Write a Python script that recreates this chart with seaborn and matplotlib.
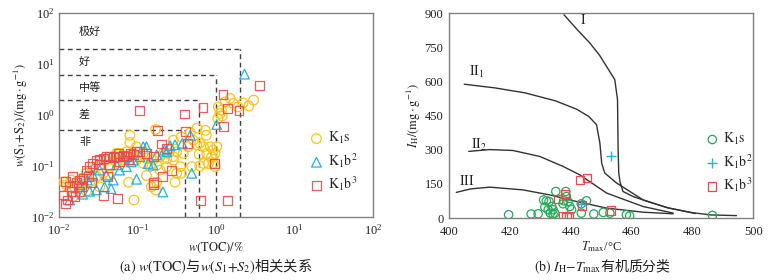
import numpy as np
import pandas as pd
import matplotlib
matplotlib.use("Agg")
import matplotlib.pyplot as plt
import seaborn as sns

sns.set_theme(style="white")
plt.rcParams['font.family'] = ['Liberation Serif', 'Noto Sans CJK SC', 'DejaVu Sans']
plt.rcParams['mathtext.fontset'] = 'stix'

# ---------------- Panel (a) data: TOC (%) vs S1+S2 (mg/g) ----------------
k1s_toc = [0.09, 0.08, 0.08, 0.17, 0.13, 0.15, 0.17, 0.175, 0.235, 0.245, 0.285, 0.30, 0.315, 0.35,
           0.36, 0.38, 0.44, 0.47, 0.49, 0.51, 0.57, 0.62, 0.69, 0.73, 0.75, 0.76, 0.84, 0.88, 0.80,
           0.92, 0.97, 1.02, 0.69, 0.61, 0.92, 0.97, 0.62, 1.05, 1.12, 1.17, 1.07, 1.51, 1.3, 1.66,
           2.2, 2.6, 3.0, 1.9, 1.2, 0.36, 0.285, 0.57,
           0.0107, 0.0115, 0.0125, 0.0143, 0.016, 0.0175, 0.0195, 0.020, 0.0223, 0.0246, 0.027, 0.030,
           0.033, 0.0365, 0.040, 0.044, 0.049, 0.054, 0.059, 0.066, 0.072, 0.080, 0.088, 0.097, 0.107,
           0.118, 0.13, 0.144, 0.158, 0.175, 0.193, 0.213, 0.235, 0.259, 0.285, 0.315, 0.193, 0.077,
           0.044, 0.033, 0.0223, 0.0151, 0.054, 0.097, 0.118]
k1s_s12 = [0.0215, 0.40, 0.29, 0.52, 0.065, 0.039, 0.034, 0.048, 0.097, 0.176, 0.152, 0.048, 0.072, 0.097,
           0.072, 0.176, 0.238, 0.45, 0.097, 0.32, 0.26, 0.28, 0.238, 0.50, 0.40, 0.176, 0.238, 0.152, 0.112,
           0.112, 0.176, 0.24, 0.112, 0.17, 0.205, 0.097, 0.10, 0.85, 1.07, 1.24, 1.44, 2.1, 1.8, 1.68,
           1.72, 1.5, 1.95, 1.44, 0.95, 0.37, 0.32, 0.55,
           0.039, 0.049, 0.043, 0.053, 0.037, 0.046, 0.057, 0.043, 0.072, 0.048, 0.083, 0.062,
           0.105, 0.072, 0.131, 0.090, 0.152, 0.112, 0.176, 0.131, 0.19, 0.152, 0.176, 0.131, 0.152,
           0.112, 0.14, 0.097, 0.131, 0.104, 0.152, 0.176, 0.14, 0.205, 0.131, 0.19, 0.083, 0.048,
           0.066, 0.039, 0.032, 0.025, 0.176, 0.238, 0.176]

k1b2_toc = [2.3, 1.02, 0.47, 0.49, 0.21, 0.118, 0.13, 0.259, 0.30, 0.37, 0.22, 0.097, 0.046, 0.038,
            0.030, 0.0246, 0.020, 0.0137, 0.040, 0.049, 0.059, 0.072, 0.083, 0.107, 0.137, 0.158,
            0.033, 0.027, 0.023, 0.0184, 0.054, 0.066, 0.088, 0.175, 0.235]
k1b2_s12 = [6.3, 0.65, 0.40, 0.072, 0.031, 0.238, 0.238, 0.25, 0.26, 0.277, 0.205, 0.055, 0.036, 0.039,
            0.034, 0.032, 0.028, 0.0215, 0.066, 0.053, 0.083, 0.097, 0.12, 0.152, 0.112, 0.104,
            0.083, 0.066, 0.053, 0.043, 0.105, 0.152, 0.131, 0.165, 0.19]

k1b3_toc = [0.107, 0.40, 0.41, 0.43, 0.18, 0.20, 0.21, 0.27, 0.68, 1.22, 1.41, 1.25, 1.95, 3.6, 0.95,
            0.63, 1.41, 0.16, 0.16, 0.055, 0.037, 0.012, 0.0113, 0.015, 0.012,
            0.027, 0.030, 0.033, 0.0365, 0.040, 0.044, 0.049, 0.054, 0.059, 0.066, 0.072, 0.080, 0.088,
            0.097, 0.077, 0.033, 0.0246, 0.0223, 0.044, 0.059, 0.0166, 0.0184, 0.0202, 0.0137, 0.0145,
            0.0195, 0.0235, 0.016, 0.0184, 0.0128, 0.041, 0.026, 0.107, 0.13, 0.158, 0.235, 0.057]
k1b3_s12 = [1.24, 1.04, 0.47, 0.28, 0.50, 0.27, 0.062, 0.082, 1.38, 2.5, 1.34, 0.59, 1.24, 3.8, 0.11,
            0.021, 0.021, 0.047, 0.044, 0.023, 0.026, 0.018, 0.027, 0.062, 0.049,
            0.112, 0.131, 0.135, 0.14, 0.152, 0.152, 0.148, 0.155, 0.152, 0.16, 0.155, 0.176, 0.165,
            0.19, 0.131, 0.105, 0.097, 0.083, 0.105, 0.12, 0.048, 0.053, 0.057, 0.039, 0.032,
            0.039, 0.062, 0.025, 0.032, 0.0215, 0.062, 0.048, 0.19, 0.176, 0.152, 0.22, 0.176]

# grade boundaries (TOC limit, S1+S2 limit) and grade labels
grade_toc = [0.4, 0.6, 1.0, 2.0]
grade_s12 = [0.5, 2.0, 6.0, 20.0]
grade_names = ['极好', '好', '中等', '差', '非']
grade_label_y = [42, 11, 3.5, 1.0, 0.3]

# ---------------- Panel (b) data: Tmax vs HI ----------------
curve_I_t = [437.8, 442, 446.3, 449.5, 451.8, 454.5, 455.4, 455.6, 455.8, 456.2, 457.2, 460.5, 466, 472, 480, 486, 494.5]
curve_I_h = [893, 830, 769, 715, 666, 608, 520, 300, 200, 160, 117, 95, 70, 45, 24, 14, 11]
curve_II1_t = [405, 415, 425, 435, 442, 446, 448.5, 449.6, 450.2, 451.2, 455, 463.8, 472, 481]
curve_II1_h = [588, 572, 550, 515, 478, 446, 410, 330, 241, 198, 155, 80, 45, 20]
curve_II2_t = [406.5, 413.4, 421, 429.8, 437.5, 443, 451.8, 463.8, 473.7]
curve_II2_h = [293, 301, 297, 271, 227, 190, 110, 51, 22]
curve_III_t = [402.4, 407, 413.4, 424.3, 433.1, 441.9, 451.8, 463.8, 473.7]
curve_III_h = [113, 128, 136, 124, 102, 73, 44, 26, 19]
curve_names = ['I', 'II_1', 'II_2', 'III']
curve_label_t = [444, 409, 410, 406]
curve_label_h = [871, 644, 322, 161]

b_k1s_t = [419.6, 427, 429.3, 431.1, 432, 432.9, 431.5, 432.6, 433.3, 434.2, 435.1, 434.2, 434.8, 437.5,
           438.4, 438.6, 437.7, 439.1, 439.7, 440.3, 443.5, 443.5, 445.2, 447.6, 450.7, 452.9, 458.3,
           459.4, 486.6, 433.8]
b_k1s_h = [15, 18, 19, 80, 76, 73, 48, 37, 22, 18, 117, 37, 22, 63, 117, 95, 76, 73, 51, 37, 22, 63, 76,
           18, 25, 22, 15, 10, 12, 51]
b_k1b2_t = [453.4, 443.5]
b_k1b2_h = [274, 63]
b_k1b3_t = [443, 445.4, 435.9, 438.2, 443.8, 453.2, 437.5, 438.6, 439.4]
b_k1b3_h = [168, 176, 85, 105, 56, 34, 7, 4, 10]

# ---------------- styling ----------------
c_yel = '#FFC312'
c_cyan = '#20B2E8'
c_red = '#F04848'
c_green = '#22AA5A'
frame_c = '#808080'

fig = plt.figure(figsize=(7.76, 2.8), dpi=100)
axA = fig.add_axes([0.076, 0.225, 0.405, 0.729])
axB = fig.add_axes([0.5786, 0.221, 0.392, 0.732])

# ---- Panel (a)
sns.scatterplot(x=k1s_toc, y=k1s_s12, marker='o', s=48, fc='none', ec=c_yel, linewidth=0.9,
                ax=axA, label=r'$\mathrm{K_1s}$', zorder=3)
sns.scatterplot(x=k1b2_toc, y=k1b2_s12, marker='^', s=48, fc='none', ec=c_cyan, linewidth=0.9,
                ax=axA, label=r'$\mathrm{K_1b^2}$', zorder=3)
sns.scatterplot(x=k1b3_toc, y=k1b3_s12, marker='s', s=40, fc='none', ec=c_red, linewidth=0.9,
                ax=axA, label=r'$\mathrm{K_1b^3}$', zorder=3, alpha=0.9)
axA.set_xscale('log')
axA.set_yscale('log')
axA.set_xlim(1e-2, 1e2)
axA.set_ylim(1e-2, 1e2)
for gt, gs in zip(grade_toc, grade_s12):
    axA.plot([1e-2, gt], [gs, gs], ls=(0, (3.5, 2.5)), color='#404040', lw=1.0, zorder=2)
    axA.plot([gt, gt], [1e-2, gs], ls=(0, (3.5, 2.5)), color='#404040', lw=1.0, zorder=2)
for name, gy in zip(grade_names, grade_label_y):
    axA.text(0.018, gy, name, family=['Noto Sans CJK SC'], fontsize=8, va='center', ha='left', color='#222222')
axA.set_xticks([1e-2, 1e-1, 1e0, 1e1, 1e2])
axA.set_yticks([1e-2, 1e-1, 1e0, 1e1, 1e2])
axA.minorticks_off()
axA.set_xlabel(r'$w\mathrm{(TOC)/\%}$', fontsize=9, labelpad=2)
axA.set_ylabel(r'$w\mathrm{(S_1\!+\!S_2)/(mg\cdot g^{-1})}$', fontsize=9, labelpad=1)
axA.legend(loc='center left', bbox_to_anchor=(0.775, 0.27), frameon=False, fontsize=10,
           handletextpad=0.2, labelspacing=0.35, borderaxespad=0, handlelength=1.2)

# ---- Panel (b)
for ct, ch in [(curve_I_t, curve_I_h), (curve_II1_t, curve_II1_h),
               (curve_II2_t, curve_II2_h), (curve_III_t, curve_III_h)]:
    sns.lineplot(x=ct, y=ch, sort=False, estimator=None, color='#333333', lw=1.0, ax=axB, zorder=2)
for name, lt, lh in zip(curve_names, curve_label_t, curve_label_h):
    axB.text(lt, lh, r'$\mathrm{' + name + '}$', fontsize=10, ha='center', va='center', color='#222222')
sns.scatterplot(x=b_k1s_t, y=b_k1s_h, marker='o', s=36, fc='none', ec=c_green, linewidth=0.9,
                ax=axB, label=r'$\mathrm{K_1s}$', zorder=3)
sns.scatterplot(x=b_k1b2_t, y=b_k1b2_h, marker='+', s=60, color=c_cyan, linewidth=1.0,
                ax=axB, label=r'$\mathrm{K_1b^2}$', zorder=3)
sns.scatterplot(x=b_k1b3_t, y=b_k1b3_h, marker='s', s=36, fc='none', ec=c_red, linewidth=0.9,
                ax=axB, label=r'$\mathrm{K_1b^3}$', zorder=3)
axB.set_xlim(400, 500)
axB.set_ylim(0, 900)
axB.set_xticks(np.arange(400, 501, 20))
axB.set_yticks(np.arange(0, 901, 150))
axB.set_xlabel(r'$T_\mathrm{max}$/°C', fontsize=9, labelpad=1)
axB.set_ylabel(r'$I_\mathrm{H}\mathrm{/(mg\cdot g^{-1})}$', fontsize=9, labelpad=1)
axB.legend(loc='center left', bbox_to_anchor=(0.82, 0.27), frameon=False, fontsize=10,
           handletextpad=0.2, labelspacing=0.35, borderaxespad=0, handlelength=1.2)

for ax in (axA, axB):
    for sp in ax.spines.values():
        sp.set_color(frame_c)
        sp.set_linewidth(1.0)
    ax.tick_params(direction='in', length=3, width=0.8, color=frame_c, labelsize=9, pad=3,
                   labelcolor='#222222')
    ax.tick_params(axis='x', pad=4)
    ax.xaxis.label.set_color('#222222')
    ax.yaxis.label.set_color('#222222')
axB.tick_params(axis='x', pad=5.5)
axB.tick_params(axis='y', pad=4)

fig.text(0.278, 0.046, r'$\mathrm{(a)}\ w\mathrm{(TOC)}$与$w\mathrm{(}S_1\mathrm{+}S_2\mathrm{)}$相关关系',
         family=['Noto Sans CJK SC'], fontsize=10.3, ha='center', va='center', color='#222222')
fig.text(0.777, 0.046, r'$\mathrm{(b)}\ I_\mathrm{H}\mathrm{-}T_\mathrm{max}$有机质分类',
         family=['Noto Sans CJK SC'], fontsize=10, ha='center', va='center', color='#222222')

fig.savefig('out.png', dpi=100)
